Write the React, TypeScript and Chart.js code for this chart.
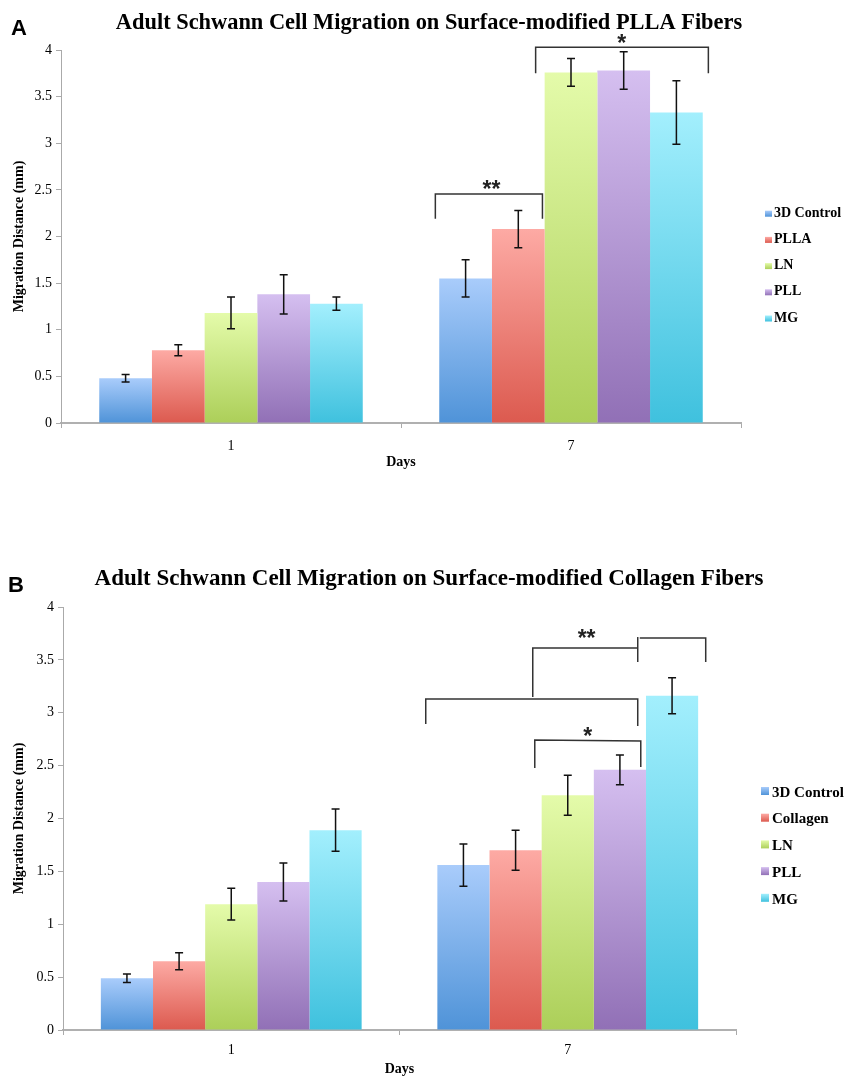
import React, { useEffect, useRef } from "react";
import { Chart, registerables } from "chart.js";
Chart.register(...registerables);

const SERIF = "'Liberation Serif', 'Times New Roman', Times, serif";
const SANS = "'Liberation Sans', Arial, sans-serif";

// ---------- data ----------
const days = ["1", "7"];

// Panel A (PLLA fibers)
const namesA = ["3D Control", "PLLA", "LN", "PLL", "MG"];
const a3DControl = [0.48, 1.55];
const a3DControlErr = [0.04, 0.2];
const aPLLA = [0.78, 2.08];
const aPLLAErr = [0.06, 0.2];
const aLN = [1.18, 3.76];
const aLNErr = [0.17, 0.15];
const aPLL = [1.38, 3.78];
const aPLLErr = [0.21, 0.2];
const aMG = [1.28, 3.33];
const aMGErr = [0.07, 0.34];

// Panel B (Collagen fibers)
const namesB = ["3D Control", "Collagen", "LN", "PLL", "MG"];
const b3DControl = [0.49, 1.56];
const b3DControlErr = [0.04, 0.2];
const bCollagen = [0.65, 1.7];
const bCollagenErr = [0.08, 0.19];
const bLN = [1.19, 2.22];
const bLNErr = [0.15, 0.19];
const bPLL = [1.4, 2.46];
const bPLLErr = [0.18, 0.14];
const bMG = [1.89, 3.16];
const bMGErr = [0.2, 0.17];

// significance brackets: polylines in (category index, value) units
const bracketsA = [
  [[0.601, 2.19], [0.601, 2.456], [0.916, 2.456], [0.916, 2.19]],
  [[0.896, 3.75], [0.896, 4.03], [1.404, 4.03], [1.404, 3.75]],
];
const starsA = [
  { text: "**", x: 0.766, y: 2.56 },
  { text: "*", x: 1.149, y: 4.13 },
];
const bracketsB = [
  [[0.896, 3.149], [0.896, 3.612], [1.208, 3.612]],
  [[1.208, 3.716], [1.208, 3.48]],
  [[1.214, 3.707], [1.41, 3.707], [1.41, 3.48]],
  [[0.578, 2.894], [0.578, 3.13], [1.208, 3.13], [1.208, 2.875]],
  [[0.902, 2.478], [0.902, 2.742], [1.217, 2.733], [1.217, 2.487]],
];
const starsB = [
  { text: "**", x: 1.056, y: 3.754 },
  { text: "*", x: 1.059, y: 2.827 },
];

const gradTop = ["#A9CCFB", "#FDAAA4", "#E4FBAA", "#D5BFF0", "#A3EFFD"];
const gradBottom = ["#4F93D8", "#DC5A4F", "#ACCF59", "#9170B6", "#3FC1DE"];

const panels = [
  {
    label: "A",
    labelLeft: 11,
    labelTop: 17,
    title: "Adult Schwann Cell Migration on Surface-modified PLLA Fibers",
    titleSize: 22.4,
    titleBaseline: 28.5,
    top: 0,
    height: 478,
    padding: { top: 50, left: 8, right: 106, bottom: 5 },
    yAxisWidth: 53,
    xAxisHeight: 50,
    tickPad: 10,
    legend: { boxX: 765, textX: 774, baseline0: 216.7, gap: 26.2, font: 14, boxW: 7, boxH: 6, boxBottom: 0 },
    names: namesA,
    values: [a3DControl, aPLLA, aLN, aPLL, aMG],
    errors: [a3DControlErr, aPLLAErr, aLNErr, aPLLErr, aMGErr],
    brackets: bracketsA,
    stars: starsA,
  },
  {
    label: "B",
    labelLeft: 8,
    labelTop: 574,
    title: "Adult Schwann Cell Migration on Surface-modified Collagen Fibers",
    titleSize: 23,
    titleBaseline: 35,
    top: 550,
    height: 530,
    padding: { top: 57, left: 8, right: 111, bottom: 0 },
    yAxisWidth: 55,
    xAxisHeight: 50,
    tickPad: 7,
    legend: { boxX: 761, textX: 772, baseline0: 246.7, gap: 26.7, font: 15, boxW: 8, boxH: 8, boxBottom: -1.7 },
    names: namesB,
    values: [b3DControl, bCollagen, bLN, bPLL, bMG],
    errors: [b3DControlErr, bCollagenErr, bLNErr, bPLLErr, bMGErr],
    brackets: bracketsB,
    stars: starsB,
  },
];

function makeExtras(p: any) {
  return {
    id: "extras" + p.label,
    afterDatasetsDraw(chart: any) {
      const { ctx } = chart;
      const y = chart.scales.y;
      chart.data.datasets.forEach((ds: any, di: number) => {
        const meta = chart.getDatasetMeta(di);
        meta.data.forEach((el: any, i: number) => {
          const v = ds.data[i];
          const e = ds.errors[i];
          const px = el.x;
          const yt = y.getPixelForValue(v + e);
          const yb = y.getPixelForValue(v - e);
          ctx.save();
          ctx.strokeStyle = "#111";
          ctx.lineWidth = 1.5;
          ctx.beginPath();
          ctx.moveTo(px, yt);
          ctx.lineTo(px, yb);
          ctx.moveTo(px - 4, yt);
          ctx.lineTo(px + 4, yt);
          ctx.moveTo(px - 4, yb);
          ctx.lineTo(px + 4, yb);
          ctx.stroke();
          ctx.restore();
        });
      });
    },
    afterDraw(chart: any) {
      const { ctx } = chart;
      const x = chart.scales.x;
      const y = chart.scales.y;
      ctx.save();
      // brackets
      ctx.strokeStyle = "#333";
      ctx.lineWidth = 1.5;
      p.brackets.forEach((line: number[][]) => {
        ctx.beginPath();
        line.forEach((pt, k) => {
          const px = x.getPixelForValue(pt[0]);
          const py = y.getPixelForValue(pt[1]);
          if (k === 0) ctx.moveTo(px, py);
          else ctx.lineTo(px, py);
        });
        ctx.stroke();
      });
      // stars
      ctx.fillStyle = "#222";
      ctx.font = "bold 23px " + SANS;
      ctx.textAlign = "center";
      ctx.textBaseline = "alphabetic";
      p.stars.forEach((s: any) => {
        ctx.fillText(s.text, x.getPixelForValue(s.x), y.getPixelForValue(s.y) + 13);
      });
      // title
      ctx.fillStyle = "#000";
      ctx.font = `bold ${p.titleSize}px ${SERIF}`;
      ctx.textAlign = "center";
      ctx.fillText(p.title, 429, p.titleBaseline);
      // legend
      const L = p.legend;
      ctx.font = `bold ${L.font}px ${SERIF}`;
      ctx.textAlign = "left";
      p.names.forEach((n: string, i: number) => {
        const base = L.baseline0 + L.gap * i;
        const by = base + L.boxBottom - L.boxH;
        const g = ctx.createLinearGradient(0, by, 0, by + L.boxH);
        g.addColorStop(0, gradTop[i]);
        g.addColorStop(1, gradBottom[i]);
        ctx.fillStyle = g;
        ctx.fillRect(L.boxX, by, L.boxW, L.boxH);
        ctx.fillStyle = "#000";
        ctx.fillText(n, L.textX, base);
      });
      ctx.restore();
    },
  };
}

function Panel({ p }: { p: any }) {
  const ref = useRef<HTMLCanvasElement>(null);
  useEffect(() => {
    const canvas = ref.current;
    if (!canvas) return;
    const datasets = p.names.map((n: string, i: number) => ({
      label: n,
      data: p.values[i],
      errors: p.errors[i],
      borderWidth: 0,
      barPercentage: 1,
      categoryPercentage: 0.775,
      backgroundColor: (c: any) => {
        const ch = c.chart;
        if (c.type !== "data" || !ch.chartArea) return gradTop[i];
        const ys = ch.scales.y;
        const t = ys.getPixelForValue(c.parsed.y);
        const b = ys.getPixelForValue(0);
        const g = ch.ctx.createLinearGradient(0, t, 0, b);
        g.addColorStop(0, gradTop[i]);
        g.addColorStop(1, gradBottom[i]);
        return g;
      },
    }));
    const chart = new Chart(canvas, {
      type: "bar",
      data: { labels: days, datasets },
      options: {
        responsive: false,
        animation: false,
        devicePixelRatio: 1,
        layout: { padding: p.padding },
        plugins: { legend: { display: false }, tooltip: { enabled: false }, title: { display: false } },
        scales: {
          x: {
            afterFit: (s: any) => { s.height = p.xAxisHeight; },
            grid: { drawOnChartArea: false, drawTicks: true, tickLength: 5, color: "#aaa", offset: true },
            border: { color: "#b0b0b0", width: 2 },
            ticks: { color: "#000", font: { family: SERIF, size: 14 }, padding: p.tickPad },
            title: { display: true, text: "Days", color: "#000", font: { family: SERIF, size: 14, weight: "bold" }, padding: { top: 0, bottom: 2 } },
          },
          y: {
            min: 0,
            max: 4,
            afterFit: (s: any) => { s.width = p.yAxisWidth; },
            grid: { drawOnChartArea: false, drawTicks: true, tickLength: 5, color: "#aaa" },
            border: { color: "#aaa", width: 1 },
            ticks: {
              stepSize: 0.5,
              color: "#000",
              font: { family: SERIF, size: 14 },
              padding: 4,
              callback: (v: any) => String(Number(v)),
            },
            title: { display: true, text: "Migration Distance (mm)", color: "#000", font: { family: SERIF, size: 14, weight: "bold" }, padding: { top: 3, bottom: 2 } },
          },
        },
      } as any,
      plugins: [makeExtras(p)],
    });
    return () => chart.destroy();
  }, []);
  return (
    <canvas
      ref={ref}
      width={847}
      height={p.height}
      style={{ position: "absolute", left: 0, top: p.top, width: 847, height: p.height }}
    />
  );
}

export default function App() {
  return (
    <div style={{ position: "absolute", left: 0, top: 0, width: 847, height: 1080, background: "#fff" }}>
      {panels.map((p) => (
        <React.Fragment key={p.label}>
          <Panel p={p} />
          <div
            style={{
              position: "absolute",
              left: p.labelLeft,
              top: p.labelTop,
              font: `bold 22px ${SANS}`,
              lineHeight: "22px",
              color: "#000",
            }}
          >
            {p.label}
          </div>
        </React.Fragment>
      ))}
    </div>
  );
}
